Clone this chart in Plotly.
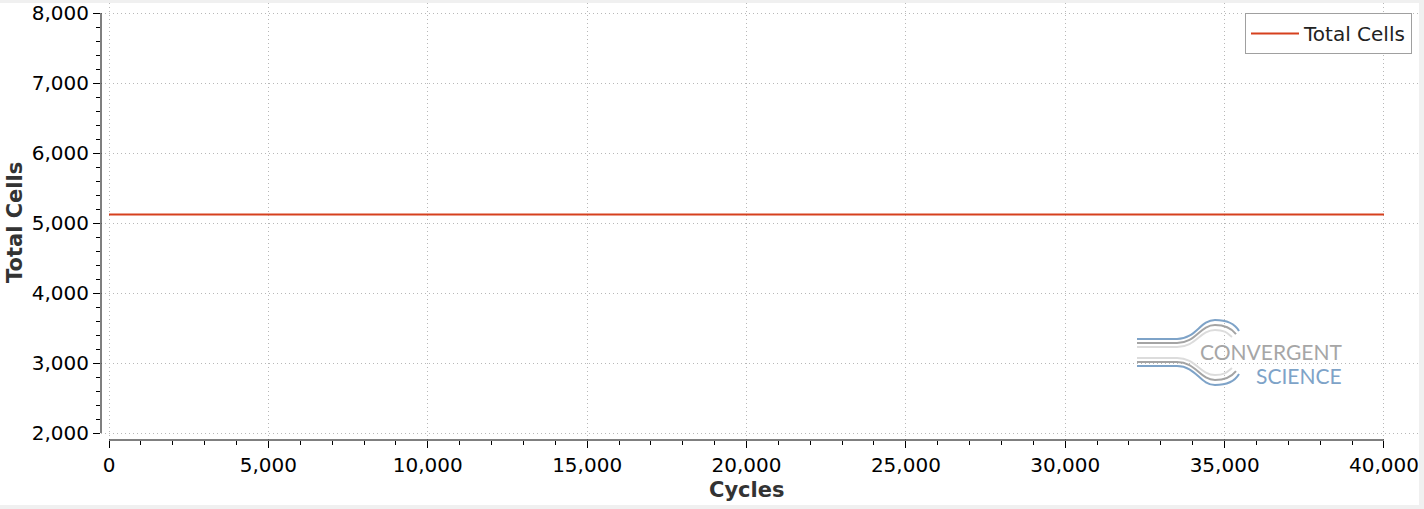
import plotly.graph_objects as go

# ---- data ----
cycles = [0, 5000, 10000, 15000, 20000, 25000, 30000, 35000, 40000]
total_cells = [5120, 5120, 5120, 5120, 5120, 5120, 5120, 5120, 5120]
series_name = "Total Cells"
x_tick_vals = [0, 5000, 10000, 15000, 20000, 25000, 30000, 35000, 40000]
y_tick_vals = [2000, 3000, 4000, 5000, 6000, 7000, 8000]
x_minor_vals = list(range(0, 40001, 1000))
y_minor_vals = list(range(2000, 8001, 200))
x_title = "Cycles"
y_title = "Total Cells"
logo_top = "CONVERGENT"
logo_bottom = "SCIENCE"

# ---- layout geometry (pixels) ----
FIG_W, FIG_H = 1424, 509
M_L, M_R, M_T, M_B = 101, 6, 3, 69
PW = FIG_W - M_L - M_R
PH = FIG_H - M_T - M_B


def px(x):
    return (x - M_L) / PW


def py(y):
    return (M_T + PH - y) / PH


def path(cmds):
    out = []
    for c in cmds:
        op, pts = c[0], c[1:]
        out.append(op + " " + " ".join(f"{px(a):.5f},{py(b):.5f}" for a, b in pts))
    return " ".join(out)


fig = go.Figure()
fig.add_trace(go.Scatter(
    x=cycles, y=total_cells, mode="lines", name=series_name,
    line=dict(color="#d6401e", width=2),
))

tick_font = dict(family="DejaVu Sans", size=20, color="#000000")

fig.update_layout(
    width=FIG_W, height=FIG_H,
    margin=dict(l=M_L, r=M_R, t=M_T, b=M_B, autoexpand=False),
    paper_bgcolor="#f0f0f0",
    plot_bgcolor="#ffffff",
    showlegend=True,
    legend=dict(
        x=px(1412), y=py(13), xanchor="right", yanchor="top",
        bgcolor="#ffffff", bordercolor="#a0a0a0", borderwidth=1,
        itemwidth=48, tracegroupgap=0,
        font=dict(family="DejaVu Sans", size=20, color="#222222"),
    ),
    xaxis=dict(
        range=[-251, 41067], showline=False, zeroline=False,
        tickvals=x_tick_vals, tickformat=",", tickfont=tick_font,
        ticks="outside", ticklen=7, tickwidth=1, tickcolor="#000000",
        showgrid=True, gridcolor="#b8b8b8", griddash="1px,3px", gridwidth=1,
        minor=dict(tickvals=x_minor_vals, ticks="outside", ticklen=4,
                   tickwidth=1, tickcolor="#000000", showgrid=False),
    ),
    yaxis=dict(
        range=[1900, 8143], showline=False, zeroline=False,
        tickvals=y_tick_vals, tickformat=",", tickfont=tick_font,
        ticks="outside", ticklen=7, tickwidth=1, tickcolor="#000000",
        ticklabelstandoff=0,
        showgrid=True, gridcolor="#b8b8b8", griddash="1px,3px", gridwidth=1,
        minor=dict(tickvals=y_minor_vals, ticks="outside", ticklen=4,
                   tickwidth=1, tickcolor="#000000", showgrid=False),
    ),
)

shapes = []
# white widget background
shapes.append(dict(type="rect", xref="paper", yref="paper", layer="below",
                   x0=px(0), x1=px(1419), y0=py(505), y1=py(3),
                   fillcolor="#ffffff", line=dict(width=0)))
# axis spines spanning the tick range
shapes.append(dict(type="line", xref="paper", yref="y", x0=0, x1=0,
                   y0=min(y_tick_vals), y1=max(y_tick_vals),
                   line=dict(color="#000000", width=1)))
shapes.append(dict(type="line", xref="x", yref="paper", y0=0, y1=0,
                   x0=min(x_tick_vals), x1=max(x_tick_vals),
                   line=dict(color="#000000", width=1)))

# logo curves
logo_lines = [
    (339, 320, 1239, 331, "#7ea3c8"),
    (343, 325, 1236, 334, "#a4a4a4"),
    (347, 330, 1232, 337, "#dcdcdc"),
]
cy = 352.5
for y0, ypk, xe, ye, col in logo_lines:
    for s in (1, -1):
        f = (lambda v: v) if s == 1 else (lambda v: 2 * cy - v)
        cmds = [
            ("M", (1137, f(y0))),
            ("L", (1177, f(y0))),
            ("C", (1196, f(y0)), (1200, f(ypk)), (1215, f(ypk))),
            ("C", (1226, f(ypk)), (xe - 4, f(ypk + 4)), (xe, f(ye))),
        ]
        shapes.append(dict(type="path", xref="paper", yref="paper",
                           path=path(cmds), line=dict(color=col, width=2)))
fig.update_layout(shapes=shapes)

annotations = [
    dict(text=f"<b>{y_title}</b>", xref="paper", yref="y", x=px(15), y=5000,
         textangle=-90, showarrow=False, xanchor="center", yanchor="middle",
         font=dict(family="DejaVu Sans", size=21, color="#333333")),
    dict(text=f"<b>{x_title}</b>", xref="x", yref="paper", x=20000, y=py(490),
         showarrow=False, xanchor="center", yanchor="middle",
         font=dict(family="DejaVu Sans", size=21, color="#333333")),
    dict(text=logo_top, xref="paper", yref="paper", x=px(1343), y=py(351),
         showarrow=False, xanchor="right", yanchor="middle", borderpad=0,
         font=dict(family="Lato", size=21, color="#a6a6a6")),
    dict(text=logo_bottom, xref="paper", yref="paper", x=px(1343), y=py(375),
         showarrow=False, xanchor="right", yanchor="middle", borderpad=0,
         font=dict(family="Lato", size=21, color="#7ea3c8")),
]
fig.update_layout(annotations=annotations)

fig.write_html(
    "out.html",
    config={"displayModeBar": False},
    post_script="document.body.style.margin='0';document.body.style.overflow='hidden';",
)
